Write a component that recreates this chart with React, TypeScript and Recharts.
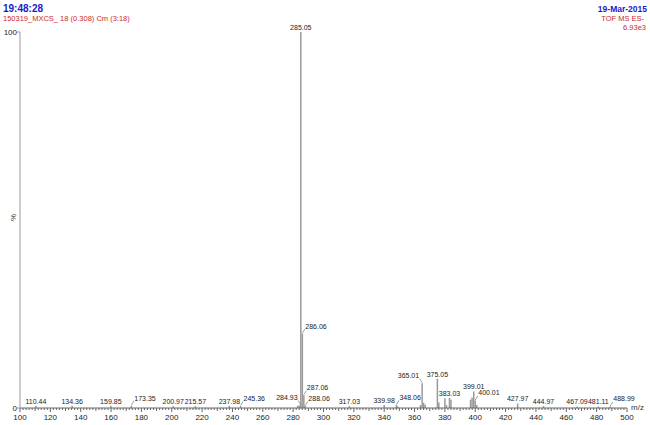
import React from 'react';
import { ComposedChart, Bar, XAxis, YAxis, LabelList } from 'recharts';

// labelled peaks (m/z, relative intensity %)
const peakMz = [
  110.44, 134.36, 159.85, 173.35, 200.97, 215.57, 237.98, 245.36, 284.93, 285.05,
  286.06, 287.06, 288.06, 317.03, 339.98, 348.06, 365.01, 375.05, 383.03, 399.01,
  400.01, 427.97, 444.97, 467.09, 481.11, 488.99,
];
const peakPct = [
  0.6, 0.6, 0.6, 0.6, 0.5, 0.5, 0.6, 0.5, 0.8, 100,
  19.8, 3.4, 0.6, 0.5, 0.8, 0.8, 6.6, 7.8, 2.7, 4.4,
  2.0, 1.2, 0.5, 0.4, 0.4, 0.4,
];

// unlabelled small peaks near the baseline
const noiseMz = [283.0, 284.0, 287.9, 349.0, 363.9, 366.0, 367.0, 376.0, 380.0, 381.0, 384.0, 396.9, 397.9, 401.0];
const noisePct = [0.6, 0.7, 0.6, 0.4, 0.8, 1.4, 0.9, 1.5, 2.6, 0.8, 2.2, 2.2, 2.8, 0.8];

const majorTicks = [100, 120, 140, 160, 180, 200, 220, 240, 260, 280, 300, 320, 340, 360, 380, 400, 420, 440, 460, 480, 500];
const yTicks = [0, 100];

const FONT = '"Liberation Sans", Arial, sans-serif';
const BLUE = '#1a1acc';
const RED = '#cc2a2a';
const LABEL_FS = 7;

const allTicks: number[] = [];
for (let v = 100; v <= 500; v += 2) allTicks.push(v);

const data = [
  ...peakMz.map((mz, i) => ({ mz, pct: peakPct[i], label: mz.toFixed(2) })),
  ...noiseMz.map((mz, i) => ({ mz, pct: noisePct[i], label: '' })),
].sort((a, b) => a.mz - b.mz);

// plot box, same as the chart margins below; used only to lay out peak labels
const PX_LEFT = 20, PX_W = 607, PX_BOTTOM = 408, PX_H = 376;
const toX = (mz: number) => PX_LEFT + ((mz - 100) / 400) * PX_W;
const toY = (pct: number) => PX_BOTTOM - (pct / 100) * PX_H;
const textW = (s: string) => [...s].reduce((w, c) => w + (c === '.' ? 0.278 : 0.556), 0) * LABEL_FS;

// greedy label placement, biggest peaks first: centred, else right, else left (raised, with leader)
type Place = { dx: number; dy: number; side: number; w: number };
const layout: Record<string, Place> = {};
(() => {
  const sticks = data.map((d) => ({ x: toX(d.mz), top: toY(d.pct) }));
  const placed: { l: number; r: number; t: number; b: number }[] = [];
  const order = peakMz
    .map((mz, i) => ({ mz, pct: peakPct[i] }))
    .sort((a, b) => b.pct - a.pct || a.mz - b.mz);
  for (const p of order) {
    const s = p.mz.toFixed(2);
    const w = textW(s);
    const sx = toX(p.mz);
    const st = toY(p.pct);
    const cands = [
      { side: 0, cx: sx, base: st - 2 },
      { side: 1, cx: sx + 3 + w / 2, base: st - 5 },
      { side: -1, cx: sx - 3 - w / 2, base: st - 5 },
    ];
    let chosen = cands[0];
    let rect = { l: sx - w / 2, r: sx + w / 2, t: st - 7.5, b: st - 2 };
    for (const c of cands) {
      const rc = { l: c.cx - w / 2, r: c.cx + w / 2, t: c.base - 5.5, b: c.base };
      const hitLabel = placed.some((q) => rc.l < q.r - 0.5 && rc.r > q.l + 0.5 && rc.t < q.b && rc.b > q.t);
      const hitStick = sticks.some((k) => k.x > rc.l - 0.5 && k.x < rc.r + 0.5 && k.top < rc.b);
      if (!hitLabel && !hitStick) {
        chosen = c;
        rect = rc;
        break;
      }
    }
    placed.push(rect);
    layout[s] = { dx: chosen.cx - sx, dy: chosen.base - st, side: chosen.side, w };
  }
})();

const Stick = (props: any) => {
  const { x, y, width, height } = props;
  if (height == null || height <= 0) return null;
  return <rect x={x + width / 2 - 0.75} y={y} width={1.5} height={height} fill="#9a9a9a" />;
};

const PeakLabel = (props: any) => {
  const { x, y, width, value } = props;
  if (!value) return null;
  const p = layout[value];
  if (!p) return null;
  const sx = x + width / 2;
  const tx = sx + p.dx;
  const base = y + p.dy;
  return (
    <g>
      {p.side !== 0 && (
        <line
          x1={sx}
          y1={y - 0.5}
          x2={p.side > 0 ? tx - p.w / 2 - 0.5 : tx + p.w / 2 + 0.5}
          y2={base + 0.5}
          stroke="#777"
          strokeWidth={0.7}
        />
      )}
      <text x={tx} y={base} textAnchor="middle" fontSize={LABEL_FS} fill="#222" fontFamily={FONT}>
        {value}
      </text>
    </g>
  );
};

const MzTick = (props: any) => {
  const { x, y, payload } = props;
  const v = payload.value;
  const major = majorTicks.includes(v);
  const len = major ? 4 : v % 10 === 0 ? 3 : 2;
  return (
    <g>
      <line x1={x} x2={x} y1={y} y2={y + len} stroke="#666" strokeWidth={1} />
      {major && (
        <text x={x} y={y + 12} textAnchor="middle" fontSize={8} fill="#222" fontFamily={FONT}>
          {v}
        </text>
      )}
    </g>
  );
};

export default function App() {
  return (
    <div style={{ position: 'absolute', left: 0, top: 0, width: 650, height: 425, background: '#fff', fontFamily: FONT }}>
      <div style={{ position: 'absolute', left: 3, top: 3, fontSize: 10, fontWeight: 'bold', color: BLUE }}>19:48:28</div>
      <div style={{ position: 'absolute', left: 3, top: 14, fontSize: 7.5, color: RED }}>150319_MXCS_ 18 (0.308) Cm (3:18)</div>
      <div style={{ position: 'absolute', right: 3, top: 4, fontSize: 8.5, fontWeight: 'bold', color: BLUE }}>19-Mar-2015</div>
      <div style={{ position: 'absolute', right: 6, top: 14, fontSize: 7.5, color: RED }}>TOF MS ES-</div>
      <div style={{ position: 'absolute', right: 4, top: 23, fontSize: 7.5, color: RED }}>6.93e3</div>
      <div style={{ position: 'absolute', left: 10, top: 213, fontSize: 8, color: '#333', transform: 'rotate(-90deg)' }}>%</div>
      <div style={{ position: 'absolute', left: 631, top: 403, fontSize: 8, color: '#333' }}>m/z</div>
      <ComposedChart width={650} height={425} data={data} margin={{ top: 32, right: 23, bottom: 0, left: 0 }}>
        <XAxis
          dataKey="mz"
          type="number"
          domain={[100, 500]}
          ticks={allTicks}
          interval={0}
          height={17}
          tickSize={0}
          tickMargin={0}
          tick={<MzTick />}
          axisLine={{ stroke: '#666' }}
          tickLine={false}
          allowDataOverflow
        />
        <YAxis
          type="number"
          domain={[0, 100]}
          ticks={yTicks}
          width={20}
          tickSize={3}
          tickMargin={0}
          tick={{ fontSize: 8, fill: '#222', fontFamily: FONT }}
          axisLine={{ stroke: '#999' }}
          tickLine={{ stroke: '#999' }}
        />
        <Bar dataKey="pct" shape={<Stick />} isAnimationActive={false}>
          <LabelList dataKey="label" content={<PeakLabel />} />
        </Bar>
      </ComposedChart>
    </div>
  );
}
